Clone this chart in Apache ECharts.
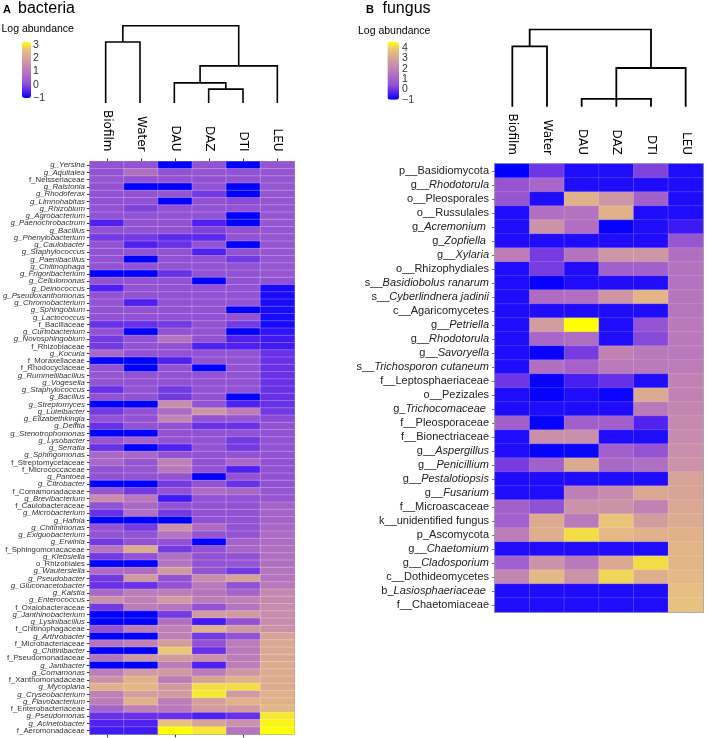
<!DOCTYPE html>
<html><head><meta charset="utf-8">
<script src="https://cdn.jsdelivr.net/npm/echarts@6/dist/echarts.min.js"></script>
<style>html,body{margin:0;padding:0;background:#fff}#c{width:708px;height:738px}</style>
</head><body><div id="c"></div>
<script>
// ---------- DATA ----------
const samples = ['Biofilm','Water','DAU','DAZ','DTI','LEU'];

const bacteriaTaxa = ['g_Yersina','g_Aquitalea','f_Neisseriaceae','g_Ralstonia','g_Rhodoferax','g_Limnohabitas','g_Rhizobium','g_Agrobacterium','g_Paenochrobactrum','g_Bacillus',
'g_Phenylobacterium','g_Caulobacter','g_Staphylococcus','g_Paenibacillus','g_Chitinophaga','g_Frigoribacterium','g_Cellulomonas','g_Deinococcus','g_Pseudoxanthomonas','g_Chromobacterium',
'g_Sphingobium','g_Lactococcus','f_Bacillaceae','g_Curtobacterium','g_Novosphingobium','f_Rhizobiaceae','g_Kocuria','f_Moraxellaceae','f_Rhodocyclaceae','g_Rummeliibacillus',
'g_Vogesella','g_Staphylococcus','g_Bacillus','g_Streptomyces','g_Luteibacter','g_Elizabethkingia','g_Delftia','g_Stenotrophomonas','g_Lysobacter','g_Serratia',
'g_Sphingomonas','f_Streptomycetaceae','f_Micrococcaceae','g_Pantoea','g_Citrobacter','f_Comamonadaceae','g_Brevibacterium','f_Caulobacteraceae','g_Microbacterium','g_Hafnia',
'g_Chitinimonas','g_Exiguobacterium','g_Erwinia','f_Sphingomonacaceae','g_Klebsiella','o_Rhizobiales','g_Wautersiella','g_Pseudobacter','g_Gluconacetobacter','g_Kaistia',
'g_Enterococcus','f_Oxalobacteraceae','g_Janthinobacterium','g_Lysinibacillus','f_Chitinophagaceae','g_Arthrobacter','f_Microbacteriaceae','g_Chitinibacter','f_Pseudomonadaceae','g_Janibacter',
'g_Comamonas','f_Xanthomonadaceae','g_Mycoplana','g_Cryseobacterium','g_Flavobacterium','f_Enterobacteriaceae','g_Pseudomonas','g_Acinetobacter','f_Aeromonadaceae'];

const bacBiofilm = [0.1,0.1,0.2,0.1,0.1,0.1,0.1,0.1,-0.5,0.1, -0.2,0.1,0.1,0.1,0.1,-1,0.1,-0.5,0.1,0.1, 0.1,0.1,-0.3,0.1,-0.2,-0.2,0.6,-1,0.1,0.2, 0.1,-0.3,0.1,-1,-0.2,0.1,-0.3,-1,0.2,-0.3, 0.6,0.6,0.1,0.1,-1,0.2,1.5,0.1,-0.3,-1, 0.1,0.1,-0.2,0.9,-0.2,-1,0.7,-0.2,-0.3,0.6, 1.6,-0.2,-1,-1,0.1,-1,0.9,-1,0.9,-1, 1.1,1.6,2.3,1.2,1.1,0.5,-0.3,-0.5,-0.6];
const bacWater   = [0.1,0.8,0.1,-1,0.1,0.1,-0.1,0.1,0.1,0.1, -0.2,-0.5,0.1,-1,0.1,-1,0.1,0.1,0.1,-0.5, 0.1,0.1,-0.3,-1,0.1,0.1,0.1,-1,-1,0.1, 0.1,0.1,0.1,-1,0.1,0.1,0.1,-1,0.5,-1, 0.6,0.2,0.2,0.1,-1,-0.2,1.0,0.6,0.8,-1, -0.2,0.1,0.1,2.2,0.1,-1,0.7,1.8,-0.3,1.1, 1.2,1.1,-1,-1,1.1,-1,1.2,-1,1.8,-1, 1.8,2.3,2.4,1.9,2.3,1.2,-0.3,-0.5,-0.6];
const bacDAU     = [-1,0.1,0.1,-1,0.2,-1,0.1,0.1,0.1,0.1, -0.4,-0.3,0.1,0.1,0.1,-0.3,0.1,0.1,0.1,0.1, 0.1,0.1,-0.2,0.1,0.9,0.1,0.1,-0.5,0.1,0.1, 0.1,-0.2,-0.2,1.5,0.7,1.3,0.1,0.1,0.1,-0.5, 0.1,1.2,1.0,0.1,-0.2,0.1,-0.6,0.1,-0.2,-1, 1.6,0.9,0.1,-0.2,0.8,0.9,1.8,0.1,0.1,1.1, 1.8,0.9,-0.2,0.8,1.2,1.2,1.9,2.7,1.8,1.1, 1.8,1.1,1.8,1.8,1.1,1.0,-0.3,2.6,3.2];
const bacDAZ     = [0.1,0.2,0.1,0.1,-0.2,0.1,0.1,0.1,-0.5,-0.1, -0.4,0.1,-0.5,0.1,0.1,0.1,-1,0.1,0.1,0.1, 0.1,0.1,0.1,0.1,0.1,-0.5,0.1,0.1,-1,0.1, 0.1,0.1,0.1,0.1,1.7,0.1,-0.3,0.1,0.1,0.1, 0.1,0.1,0.1,-1,0.1,0.7,0.1,0.1,0.1,0.1, 0.7,0.1,-1,0.1,0.1,0.1,0.1,1.5,1.0,0.9, 1.1,0.1,1.8,-0.6,2.3,-0.2,0.1,-0.3,1.6,-0.5, 1.1,2.0,2.9,3.0,1.9,1.8,-0.5,2.0,3.0];
const bacDTI     = [-1,0.1,0.1,-1,-1,0.0,0.1,-1,-1,0.1, 0.1,-1,0.1,-0.2,0.1,0.1,0.1,0.1,0.1,0.1, -1,0.1,-0.2,-1,-0.5,-0.5,0.1,0.1,0.1,0.1, 0.1,0.1,-1,-0.5,1.1,0.2,-0.3,0.1,-0.2,-0.2, 0.1,0.6,-0.5,0.1,-0.3,0.6,0.1,0.1,0.1,0.1, 0.1,0.1,0.5,0.6,0.1,0.2,-0.2,2.0,0.1,0.5, 1.2,0.9,1.8,0.1,1.8,0.1,1.1,1.0,1.1,1.1, 1.7,2.3,2.9,1.8,2.3,1.8,-0.3,1.6,0.9];
const bacLEU     = [0.2,0.2,0.2,0.2,0.2,0.2,0.2,0.2,0.2,0.2, 0.2,0.2,0.2,0.2,0.2,0.2,0.1,-0.85,-0.85,-0.85, -0.85,-0.85,-0.85,-0.7,-0.6,-0.6,-0.3,-0.3,-0.3,-0.3, -0.3,-0.3,-0.3,-0.3,-0.2,0.0,0.1,0.1,0.1,0.1, 0.1,0.1,0.1,0.1,0.1,0.2,0.2,0.5,0.5,0.5, 0.6,0.7,0.7,0.8,0.8,0.8,0.9,0.9,1.0,1.4, 1.4,1.5,1.5,1.5,1.6,2.0,2.1,2.1,2.1,2.2, 2.2,2.2,2.2,2.3,2.3,2.4,3.0,3.1,3.2];

const fungusTaxa = ['p__Basidiomycota','g__Rhodotorula','o__Pleosporales','o__Russulales','g_Acremonium ','g_Zopfiella ','g__Xylaria','o__Rhizophydiales','s__Basidiobolus ranarum','s__Cyberlindnera jadinii',
'c__Agaricomycetes','g__Petriella','g__Rhodotorula','g__Savoryella','s__Trichosporon cutaneum','f__Leptosphaeriaceae','o__Pezizales','g_Trichocomaceae ','f__Pleosporaceae','f__Bionectriaceae',
'g__Aspergillus','g__Penicillium','g__Pestalotiopsis','g__Fusarium','f__Microascaceae','k__unidentified fungus','p_Ascomycota','g__Chaetomium','g__Cladosporium','c__Dothideomycetes',
'b_Lasiosphaeriaceae ','f__Chaetomiaceae'];

const funBiofilm = [-1,0.6,0.6,-0.75,-0.75,-0.75,1.8,-0.75,-0.75,-0.75,-0.75,-0.75,-0.75,-0.75,-0.75,0.0,-0.75,-0.75,0.9,-0.75,-0.75,0.1,-0.75,-0.75,0.9,0.9,1.8,-0.75,0.9,2.1,-0.75,-0.75];
const funWater   = [0.0,1.1,-0.75,1.4,2.5,-0.75,0.1,0.1,-0.95,1.3,-0.75,2.8,1.1,-0.95,1.4,-0.95,-0.95,-0.75,-0.95,2.4,-0.95,0.9,-0.75,-0.75,0.4,3.2,3.3,-0.75,2.5,3.6,-0.75,-0.75];
const funDAU     = [-0.75,-0.75,3.4,1.5,1.4,-0.75,1.5,-0.75,-0.75,1.4,-0.75,4.6,1.3,0.1,1.0,-0.4,-0.75,-0.75,0.9,2.4,-0.9,3.2,-0.75,1.9,2.5,1.7,4.2,-0.75,1.7,2.5,-0.75,-0.75];
const funDAZ     = [-0.75,-0.75,2.6,3.4,-0.95,-0.75,2.6,0.9,-0.75,2.6,-0.75,-0.75,-0.75,2.0,1.7,-0.1,-0.9,-0.75,0.9,-0.75,0.9,1.2,-0.75,2.3,2.5,3.9,3.6,-0.75,3.1,4.1,-0.75,-0.75];
const funDTI     = [0.2,-0.75,0.9,-0.75,-0.75,-0.75,2.6,0.9,-0.75,3.5,-0.75,0.5,0.3,1.7,1.7,-0.75,3.2,1.7,-0.3,-0.75,0.5,1.4,-0.75,3.1,2.0,2.8,3.4,-0.75,4.2,3.3,-0.75,-0.75];
const funLEU     = [-0.75,-0.75,-0.75,-0.75,-0.5,0.6,1.4,1.5,1.5,1.6,1.6,1.7,1.7,1.7,1.8,2.0,2.0,2.1,2.2,2.3,2.4,2.5,3.0,3.0,3.1,3.2,3.4,3.5,3.5,3.6,3.7,3.8];

// dendrograms (hclust-style merge: negative = leaf index, positive = earlier merge) + heights
const bacteriaMerge  = [[-4,-5],[-3,1],[2,-6],[-1,-2],[4,3]];
const bacteriaHeight = [0.18,0.26,0.48,0.79,1.0];
const fungusMerge    = [[-3,-5],[-4,1],[2,-6],[-1,-2],[4,3]];
const fungusHeight   = [0.10,0.10,0.50,0.78,1.0];

const bacLegendTicks = {min:-1, max:3.2};
const funLegendTicks = {min:-1, max:4.6};

// ---------- HELPERS ----------
function cells(cols){ const out=[]; cols.forEach((col,j)=>col.forEach((v,i)=>out.push([j,i,v]))); return out; }
function treeLines(merge, height){
  const pos=[], hgt=[], lines=[];
  merge.forEach((m,k)=>{
    const ch = m.map(c => c<0 ? {x:-c-1,h:0} : {x:pos[c-1],h:hgt[c-1]});
    const h = height[k];
    lines.push({coords:[[ch[0].x,ch[0].h],[ch[0].x,h],[ch[1].x,h],[ch[1].x,ch[1].h]]});
    pos.push((ch[0].x+ch[1].x)/2); hgt.push(h);
  });
  return lines;
}
const palette = ['#0000ff','#5422f0','#9050d4','#a866c8','#bc7cb8','#cc92a8','#dcaa90','#eac47c','#ffff00'];
const SANS = 'Liberation Sans, Arial, sans-serif';
const DEJ = 'DejaVu Sans, sans-serif';
const minusFmt = v => v < 0 ? '\u2212' + (-v) : String(v);

const bacGrid = {left:88.5, top:161.5, width:206, height:572.75};
const funGrid = {left:495, top:164, width:208, height:448};
const funLeg = {left:387.5, top:42, width:11.5, height:57.7};
const legLabel = {fontSize:10.5, fontFamily:SANS, color:'#333', formatter:minusFmt, showMinLabel:true, showMaxLabel:false};

const option = {
  animation:false,
  backgroundColor:'#fff',
  grid:[
    Object.assign({show:true, borderColor:'#444', borderWidth:1, backgroundColor:'transparent'}, bacGrid),
    {left:bacGrid.left, width:bacGrid.width, top:25.7, height:77.3},
    Object.assign({show:true, borderColor:'#777', borderWidth:1.5, backgroundColor:'transparent'}, funGrid),
    {left:funGrid.left, width:funGrid.width, top:29.3, height:77.4},
    {left:22, top:42, width:9, height:56},
    funLeg,
    // upper part of the fungus legend scale (0 .. max) for the even tick labels
    {left:funLeg.left, width:funLeg.width, top:funLeg.top,
     height:funLeg.height*(funLegendTicks.max-0)/(funLegendTicks.max-funLegendTicks.min)}
  ],
  xAxis:[
    {type:'category', gridIndex:0, position:'top', data:samples,
      axisLine:{show:false}, axisTick:{show:true, alignWithLabel:true, length:3, lineStyle:{color:'#333'}},
      axisLabel:{interval:0, rotate:90, margin:10, fontSize:12, fontFamily:DEJ, color:'#000'}},
    {type:'category', gridIndex:0, position:'bottom', data:samples,
      axisLine:{show:false}, axisTick:{show:true, alignWithLabel:true, length:3, lineStyle:{color:'#333'}},
      axisLabel:{show:false}},
    {type:'value', gridIndex:1, min:-0.5, max:5.5, show:false},
    {type:'category', gridIndex:2, position:'top', data:samples,
      axisLine:{show:false}, axisTick:{show:false},
      axisLabel:{interval:0, rotate:90, margin:9, fontSize:12, fontFamily:DEJ, color:'#000'}},
    {type:'value', gridIndex:3, min:-0.5, max:5.5, show:false},
    {type:'value', gridIndex:4, show:false},
    {type:'value', gridIndex:5, show:false},
    {type:'value', gridIndex:6, show:false}
  ],
  yAxis:[
    {type:'category', gridIndex:0, inverse:true, data:bacteriaTaxa,
      axisLine:{show:false}, axisTick:{show:true, alignWithLabel:true, length:3, lineStyle:{color:'#333'}},
      axisLabel:{interval:0, margin:5, color:'#333',
        formatter: v => v.startsWith('g_') ? '{i|'+v+'}' : '{n|'+v+'}',
        rich:{i:{fontSize:7.8, fontStyle:'italic', fontFamily:SANS, color:'#333'},
              n:{fontSize:7.8, fontFamily:SANS, color:'#333'}}}},
    {type:'value', gridIndex:1, min:0, max:1, show:false},
    {type:'category', gridIndex:2, inverse:true, data:fungusTaxa,
      axisLine:{show:false}, axisTick:{show:true, alignWithLabel:true, length:3, lineStyle:{color:'#777'}},
      axisLabel:{interval:0, margin:6, color:'#222',
        formatter: v => { const m = v.match(/^([a-z])(_+)(.*)$/);
          if (m && 'gsb'.includes(m[1])) return '{n|'+m[1]+m[2]+'}{i|'+m[3]+'}';
          return '{n|'+v+'}'; },
        rich:{i:{fontSize:11, fontStyle:'italic', fontFamily:SANS, color:'#222'},
              n:{fontSize:11, fontFamily:SANS, color:'#222'}}}},
    {type:'value', gridIndex:3, min:0, max:1, show:false},
    {type:'value', gridIndex:4, position:'right', min:bacLegendTicks.min, max:bacLegendTicks.max, interval:1,
      axisLine:{show:false}, splitLine:{show:false},
      axisTick:{show:true, inside:true, length:2, lineStyle:{color:'#fff'}},
      axisLabel:Object.assign({margin:2}, legLabel)},
    {type:'value', gridIndex:5, position:'right', min:funLegendTicks.min, max:funLegendTicks.max, interval:2,
      axisLine:{show:false}, splitLine:{show:false},
      axisTick:{show:true, inside:true, length:2, lineStyle:{color:'#fff'}},
      axisLabel:Object.assign({margin:3}, legLabel)},
    {type:'value', gridIndex:6, position:'right', min:0, max:funLegendTicks.max, interval:2,
      axisLine:{show:false}, splitLine:{show:false},
      axisTick:{show:true, inside:true, length:2, lineStyle:{color:'#fff'}},
      axisLabel:Object.assign({margin:3}, legLabel)}
  ],
  visualMap:[
    {type:'continuous', seriesIndex:0, min:bacLegendTicks.min, max:bacLegendTicks.max, calculable:false,
      orient:'vertical', left:22, top:42, itemWidth:9, itemHeight:56, padding:0, text:null, showLabel:false,
      inRange:{color:palette}},
    {type:'continuous', seriesIndex:1, min:funLegendTicks.min, max:funLegendTicks.max, calculable:false,
      orient:'vertical', left:funLeg.left, top:funLeg.top, itemWidth:funLeg.width, itemHeight:funLeg.height, padding:0, text:null, showLabel:false,
      inRange:{color:palette}}
  ],
  graphic:[
    {type:'text', x:3, y:10, style:{text:'A', font:'bold 11px '+SANS, fill:'#000', verticalAlign:'middle'}},
    {type:'text', x:18, y:8.5, style:{text:'bacteria', font:'16px '+SANS, fill:'#000', verticalAlign:'middle'}},
    {type:'text', x:1.5, y:29.5, style:{text:'Log abundance', font:'10.5px '+SANS, fill:'#000', verticalAlign:'middle'}},
    {type:'text', x:366, y:9.5, style:{text:'B', font:'bold 11px '+SANS, fill:'#000', verticalAlign:'middle'}},
    {type:'text', x:382.5, y:8.5, style:{text:'fungus', font:'16px '+SANS, fill:'#000', verticalAlign:'middle'}},
    {type:'text', x:358, y:31, style:{text:'Log abundance', font:'10.5px '+SANS, fill:'#000', verticalAlign:'middle'}}
  ],
  series:[
    {type:'heatmap', xAxisIndex:0, yAxisIndex:0,
      data:cells([bacBiofilm,bacWater,bacDAU,bacDAZ,bacDTI,bacLEU]),
      itemStyle:{borderColor:'rgba(255,255,255,0.4)', borderWidth:0.6}, emphasis:{disabled:true}},
    {type:'heatmap', xAxisIndex:3, yAxisIndex:2,
      data:cells([funBiofilm,funWater,funDAU,funDAZ,funDTI,funLEU]),
      itemStyle:{borderColor:'rgba(255,255,255,0.25)', borderWidth:0.6}, emphasis:{disabled:true}},
    {type:'lines', coordinateSystem:'cartesian2d', xAxisIndex:2, yAxisIndex:1, polyline:true, silent:true,
      data:treeLines(bacteriaMerge,bacteriaHeight), lineStyle:{color:'#000', width:1.6, opacity:1, curveness:0}},
    {type:'lines', coordinateSystem:'cartesian2d', xAxisIndex:4, yAxisIndex:3, polyline:true, silent:true,
      data:treeLines(fungusMerge,fungusHeight), lineStyle:{color:'#000', width:1.8, opacity:1, curveness:0}}
  ]
};
const chart = echarts.init(document.getElementById('c'));
chart.setOption(option);
</script>
</body></html>
